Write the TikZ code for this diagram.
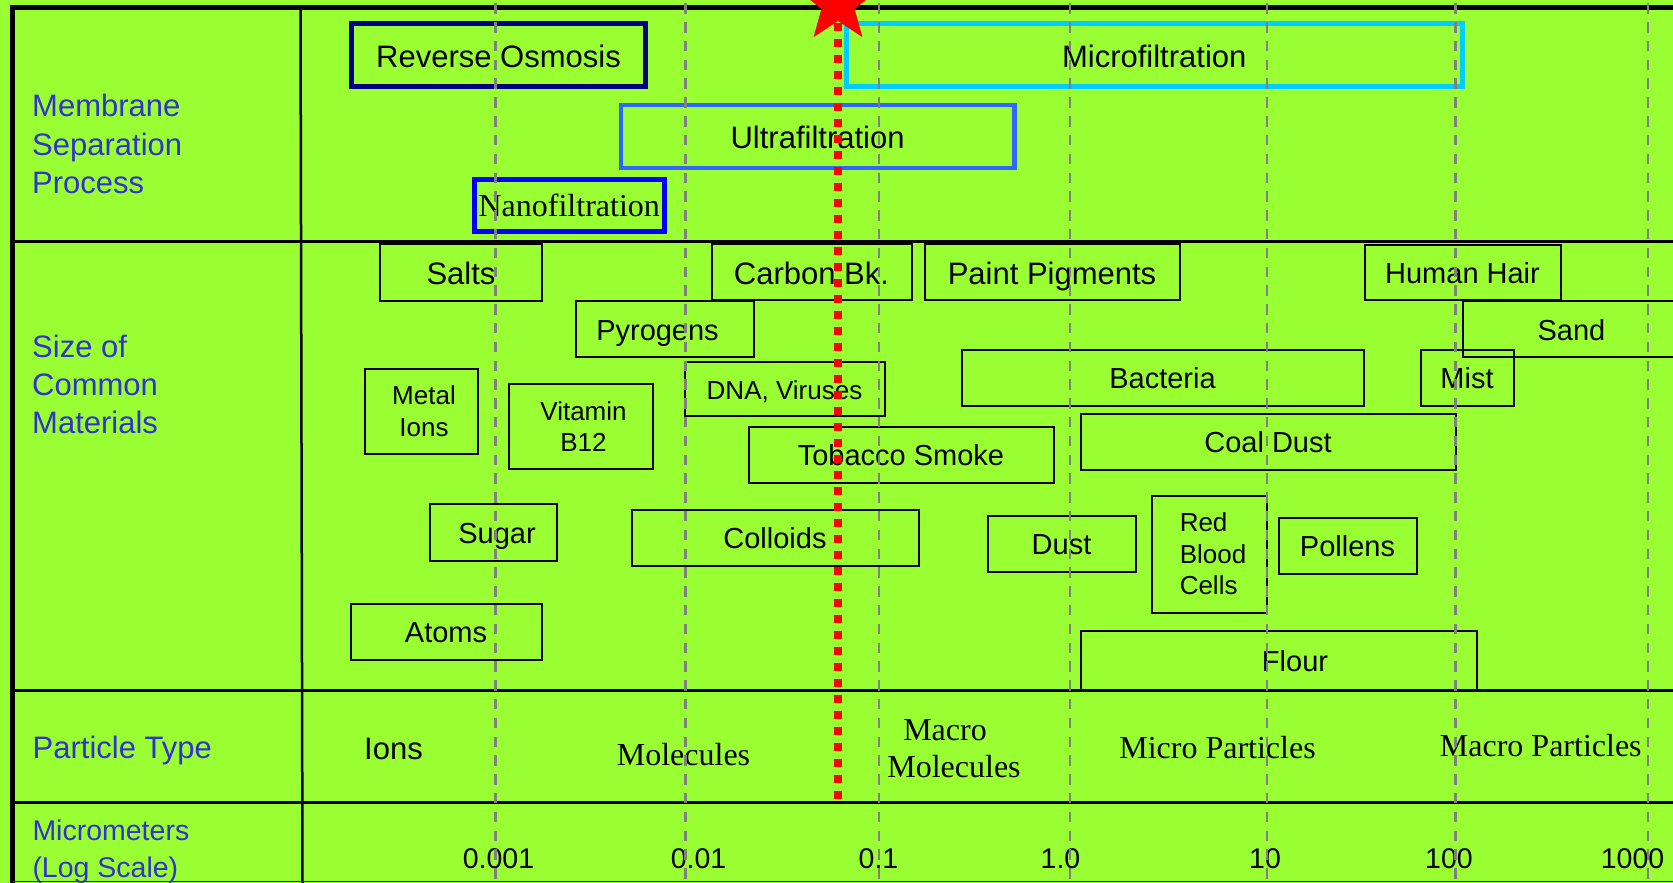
\documentclass[tikz,border=0pt]{standalone}
\usepackage{fontspec}
\setmainfont{Liberation Sans}
\newfontfamily\tmsfont{Liberation Serif}
\definecolor{bg}{RGB}{153,255,51}
\definecolor{labblue}{RGB}{51,51,204}
\definecolor{ronavy}{RGB}{0,0,128}
\definecolor{ufblue}{RGB}{51,102,255}
\definecolor{mfcyan}{RGB}{0,204,255}
\definecolor{nfblue}{RGB}{0,0,255}
\definecolor{gridgray}{RGB}{128,128,128}
\newcommand\szA{\fontsize{31pt}{37pt}\selectfont}
\newcommand\szB{\fontsize{29pt}{35pt}\selectfont}
\newcommand\szC{\fontsize{26pt}{31.6pt}\selectfont}
\newcommand\szN{\fontsize{28.5pt}{37.5pt}\selectfont}
\newcommand\szT{\tmsfont\fontsize{32pt}{37.7pt}\selectfont}
\tikzset{
  x=1pt, y=-1pt,
  frameln/.style={black, line width=3pt},
  memb/.style={draw, line width=5pt, inner sep=0pt, font=\szA, text=black, text height=24.2pt, text depth=0pt},
  mat/.style={draw=black, line width=2pt, inner sep=0pt, font=\szB, text height=22.8pt, text depth=0pt},
  matA/.style={mat, font=\szA, text height=24.2pt},
  matC/.style={mat, font=\szC, text height=20.6pt},
  matM/.style={draw=black, line width=2pt, inner sep=0pt, font=\szC},
  rowlab/.style={anchor=base west, inner sep=0pt, text=labblue, font=\szA},
  ptype/.style={anchor=base, inner sep=0pt, font=\szT},
  numlab/.style={anchor=base, inner sep=0pt, font=\szN},
  gridln/.style={draw=gridgray, line width=2.5pt, dash pattern=on 10.5pt off 8.3pt},
  cutln/.style={draw=red, line width=8pt, dash pattern=on 7.7pt off 8.3pt},
}
\begin{document}
\begin{tikzpicture}
\useasboundingbox (0,0) rectangle (1673,883);
\fill[bg] (0,0) rectangle (1673,883);
% frame
\draw[black, line width=4.5pt] (10,7.3) -- (1673,7.3);
\draw[black, line width=5pt] (12.5,5) -- (12.5,883);
\draw[black, line width=2.5pt] (300.5,7) -- (302.5,883);
\draw[frameln] (12.5,241.5) -- (1673,241.5);
\draw[frameln] (12.5,690.5) -- (1673,690.5);
\draw[frameln] (12.5,802.3) -- (1673,802.3);
\draw[black!80, line width=1.5pt] (12.5,881.5) -- (1673,881.5);
% membrane processes
\node[memb, draw=ronavy, minimum width=294pt, minimum height=62.5pt] (ro) at (498.5,55.25) {Reverse Osmosis};
\node[memb, draw=mfcyan, minimum width=615.5pt, minimum height=63pt] (mf) at (1154.25,55) {Microfiltration};
\node[memb, draw=ufblue, line width=4.5pt, minimum width=393.3pt, minimum height=63pt] (uf) at (817.6,136.5) {Ultrafiltration};
\node[memb, draw=nfblue, font=\szT, text height=23pt, minimum width=190.5pt, minimum height=52pt] (nf) at (569.25,205) {Nanofiltration};
% materials
\node[matA, minimum width=162pt, minimum height=57pt] (salts) at (461,272) {Salts};
\node[matA, minimum width=200pt, minimum height=56pt] (carbon) at (811.5,272) {Carbon Bk.};
\node[matA, minimum width=255pt, minimum height=56pt] (paint) at (1052,272) {Paint Pigments};
\node[mat, minimum width=196pt, minimum height=55pt] (hair) at (1462.5,272.5) {Human Hair};
\node[mat, minimum width=178pt, minimum height=56pt] (pyro) at (664.5,329) {Pyrogens\hspace*{14pt}};
\node[mat, minimum width=217pt, minimum height=56pt] (sand) at (1571.5,329) {Sand};
\node[matM, align=center, minimum width=113pt, minimum height=85pt] (metal) at (421,411.5) {\hspace*{6pt}Metal\\\hspace*{6pt}Ions};
\node[matM, align=center, minimum width=144pt, minimum height=85pt] (vitb) at (580.5,426.5) {\hspace*{6pt}Vitamin\\\hspace*{6pt}B12};
\node[matC, minimum width=200pt, minimum height=54pt] (dna) at (784.5,389) {DNA, Viruses};
\node[mat, minimum width=402pt, minimum height=56pt] (bact) at (1162.5,377.5) {Bacteria};
\node[mat, minimum width=93pt, minimum height=56pt] (mist) at (1467,377.5) {Mist};
\node[mat, minimum width=305pt, minimum height=56pt] (tobacco) at (901,454.5) {Tobacco Smoke};
\node[mat, minimum width=375pt, minimum height=56pt] (coal) at (1268,441.5) {Coal Dust};
\node[mat, minimum width=127pt, minimum height=57pt] (sugar) at (493,532) {\hspace*{8pt}Sugar};
\node[mat, minimum width=287pt, minimum height=56pt] (colloids) at (775,537.5) {Colloids};
\node[mat, minimum width=148pt, minimum height=56pt] (dust) at (1061.5,543.5) {Dust};
\node[matM, align=left, minimum width=115pt, minimum height=117pt] (rbc) at (1209,554) {\hspace*{8pt}Red\\\hspace*{8pt}Blood\\\hspace*{8pt}Cells};
\node[mat, minimum width=138pt, minimum height=56pt] (pollens) at (1347.5,545.5) {Pollens};
\node[mat, minimum width=191pt, minimum height=56pt] (atoms) at (446,631.5) {Atoms};
\node[mat, minimum width=396pt, minimum height=59pt] (flour) at (1278.5,660.5) {\hspace*{33pt}Flour};
% row labels
\node[rowlab] (lm1) at (32,116) {Membrane};
\node[rowlab] (lm2) at (32,155.3) {Separation};
\node[rowlab] (lm3) at (32,193.5) {Process};
\node[rowlab] (ls1) at (32,357) {Size of};
\node[rowlab] (ls2) at (32,395.7) {Common};
\node[rowlab] (ls3) at (32,433.7) {Materials};
\node[rowlab] (lp) at (32.5,758) {Particle Type};
\node[rowlab, font=\szN] (lu1) at (32.3,840) {Micrometers};
\node[rowlab, font=\szN] (lu2) at (32.3,877) {(Log Scale)};
% particle types
\node[anchor=base, inner sep=0pt, font=\szA] (ions) at (393.5,759) {Ions};
\node[ptype] (molec) at (683.5,765) {Molecules};
\node[ptype] (macro1) at (945,740) {Macro};
\node[ptype] (macro2) at (954,777.5) {Molecules};
\node[ptype] (micp) at (1217.5,758) {Micro Particles};
\node[ptype] (macp) at (1540.8,756) {Macro Particles};
% scale numbers
\node[numlab] (n1) at (498.5,868) {0.001};
\node[numlab] (n2) at (698.5,868) {0.01};
\node[numlab] (n3) at (878.5,868) {0.1};
\node[numlab] (n4) at (1060.5,868) {1.0};
\node[numlab] (n5) at (1265,868) {10};
\node[numlab] (n6) at (1449,868) {100};
\node[numlab] (n7) at (1632.5,868) {1000};
% grid lines
\foreach \gx in {495.5,685.5,879,1070,1267,1455.5,1648}
  \draw[gridln] (\gx,3.3) -- (\gx,883);
% cut-off line and star
\draw[cutln] (838,7.3) -- (838,802);
\fill[red] (838,-38) -- (827.7,-10.7) -- (798.5,-9.3) -- (821.4,8.9) -- (813.6,37.1)
  -- (838,21) -- (862.4,37.1) -- (854.6,8.9) -- (877.5,-9.3) -- (848.3,-10.7) -- cycle;
\end{tikzpicture}
\end{document}
